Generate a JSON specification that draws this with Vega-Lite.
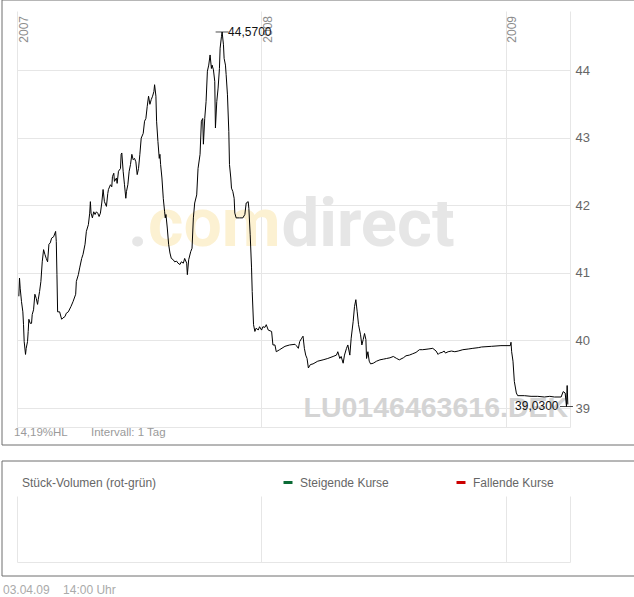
{
  "$schema": "https://vega.github.io/schema/vega-lite/v6.json",
  "background": "white",
  "padding": {"left": 0.5, "top": -1.5, "right": 0, "bottom": 4},
  "config": {
    "font": "Liberation Sans",
    "axis": {"translate": 0, "gridColor": "#e6e6e6", "domainColor": "#e6e6e6", "ticks": false, "labels": false, "grid": false, "domain": false},
    "view": {"stroke": null}
  },
  "title": {"text": "03.04.09\u00a0\u00a0\u00a0 14:00 Uhr", "orient": "bottom", "anchor": "start", "fontSize": 12, "fontWeight": "normal", "color": "#aaaaaa", "baseline": "alphabetic", "offset": 18, "dx": 2},
  "spacing": 14,
  "datasets": {
    "price": [
      {"date": "2007-01-03", "price": 40.66}, {"date": "2007-01-04", "price": 40.93}, {"date": "2007-01-05", "price": 40.78}, {"date": "2007-01-07", "price": 40.58},
      {"date": "2007-01-09", "price": 40.43}, {"date": "2007-01-10", "price": 40.24}, {"date": "2007-01-11", "price": 39.99}, {"date": "2007-01-13", "price": 39.80},
      {"date": "2007-01-14", "price": 39.89}, {"date": "2007-01-16", "price": 39.99}, {"date": "2007-01-17", "price": 40.14}, {"date": "2007-01-18", "price": 40.32},
      {"date": "2007-01-20", "price": 40.26}, {"date": "2007-01-22", "price": 40.26}, {"date": "2007-01-23", "price": 40.39}, {"date": "2007-01-25", "price": 40.46},
      {"date": "2007-01-27", "price": 40.69}, {"date": "2007-01-29", "price": 40.63}, {"date": "2007-01-31", "price": 40.54}, {"date": "2007-02-01", "price": 40.61},
      {"date": "2007-02-03", "price": 40.73}, {"date": "2007-02-05", "price": 40.88}, {"date": "2007-02-07", "price": 41.17}, {"date": "2007-02-09", "price": 41.35},
      {"date": "2007-02-11", "price": 41.28}, {"date": "2007-02-13", "price": 41.22}, {"date": "2007-02-15", "price": 41.17}, {"date": "2007-02-17", "price": 41.43},
      {"date": "2007-02-19", "price": 41.45}, {"date": "2007-02-21", "price": 41.52}, {"date": "2007-02-24", "price": 41.54}, {"date": "2007-02-27", "price": 41.62},
      {"date": "2007-02-28", "price": 41.47}, {"date": "2007-03-01", "price": 40.98}, {"date": "2007-03-02", "price": 40.43}, {"date": "2007-03-05", "price": 40.43},
      {"date": "2007-03-08", "price": 40.32}, {"date": "2007-03-10", "price": 40.34}, {"date": "2007-03-13", "price": 40.36}, {"date": "2007-03-15", "price": 40.41},
      {"date": "2007-03-18", "price": 40.43}, {"date": "2007-03-22", "price": 40.51}, {"date": "2007-03-25", "price": 40.58}, {"date": "2007-03-29", "price": 40.69},
      {"date": "2007-03-30", "price": 40.88}, {"date": "2007-04-02", "price": 40.98}, {"date": "2007-04-04", "price": 41.08}, {"date": "2007-04-07", "price": 41.22},
      {"date": "2007-04-09", "price": 41.28}, {"date": "2007-04-12", "price": 41.43}, {"date": "2007-04-14", "price": 41.62}, {"date": "2007-04-17", "price": 41.72},
      {"date": "2007-04-19", "price": 41.89}, {"date": "2007-04-20", "price": 42.06}, {"date": "2007-04-21", "price": 41.89}, {"date": "2007-04-23", "price": 41.82},
      {"date": "2007-04-25", "price": 41.91}, {"date": "2007-04-27", "price": 41.87}, {"date": "2007-04-29", "price": 41.91}, {"date": "2007-05-01", "price": 41.89},
      {"date": "2007-05-03", "price": 41.84}, {"date": "2007-05-05", "price": 41.89}, {"date": "2007-05-07", "price": 42.04}, {"date": "2007-05-09", "price": 42.24},
      {"date": "2007-05-11", "price": 42.06}, {"date": "2007-05-14", "price": 41.99}, {"date": "2007-05-16", "price": 42.18}, {"date": "2007-05-17", "price": 42.24},
      {"date": "2007-05-20", "price": 42.31}, {"date": "2007-05-22", "price": 42.28}, {"date": "2007-05-23", "price": 42.43}, {"date": "2007-05-25", "price": 42.48},
      {"date": "2007-05-26", "price": 42.36}, {"date": "2007-05-29", "price": 42.41}, {"date": "2007-05-30", "price": 42.33}, {"date": "2007-06-01", "price": 42.51},
      {"date": "2007-06-04", "price": 42.55}, {"date": "2007-06-05", "price": 42.76}, {"date": "2007-06-06", "price": 42.78}, {"date": "2007-06-08", "price": 42.51},
      {"date": "2007-06-10", "price": 42.31}, {"date": "2007-06-12", "price": 42.11}, {"date": "2007-06-13", "price": 42.21}, {"date": "2007-06-15", "price": 42.31},
      {"date": "2007-06-17", "price": 42.51}, {"date": "2007-06-19", "price": 42.61}, {"date": "2007-06-21", "price": 42.76}, {"date": "2007-06-23", "price": 42.68},
      {"date": "2007-06-25", "price": 42.70}, {"date": "2007-06-27", "price": 42.65}, {"date": "2007-06-29", "price": 42.46}, {"date": "2007-07-01", "price": 42.55},
      {"date": "2007-07-03", "price": 42.76}, {"date": "2007-07-05", "price": 43.00}, {"date": "2007-07-08", "price": 43.07}, {"date": "2007-07-10", "price": 43.25},
      {"date": "2007-07-12", "price": 43.29}, {"date": "2007-07-14", "price": 43.47}, {"date": "2007-07-16", "price": 43.62}, {"date": "2007-07-18", "price": 43.50},
      {"date": "2007-07-20", "price": 43.57}, {"date": "2007-07-22", "price": 43.62}, {"date": "2007-07-24", "price": 43.69}, {"date": "2007-07-25", "price": 43.79},
      {"date": "2007-07-27", "price": 43.62}, {"date": "2007-07-28", "price": 43.25}, {"date": "2007-07-30", "price": 42.95}, {"date": "2007-08-01", "price": 42.70},
      {"date": "2007-08-02", "price": 42.76}, {"date": "2007-08-03", "price": 42.61}, {"date": "2007-08-05", "price": 42.41}, {"date": "2007-08-07", "price": 42.11},
      {"date": "2007-08-09", "price": 41.91}, {"date": "2007-08-10", "price": 41.82}, {"date": "2007-08-11", "price": 41.87}, {"date": "2007-08-13", "price": 41.67},
      {"date": "2007-08-15", "price": 41.43}, {"date": "2007-08-17", "price": 41.30}, {"date": "2007-08-19", "price": 41.22}, {"date": "2007-08-22", "price": 41.20},
      {"date": "2007-08-24", "price": 41.17}, {"date": "2007-08-27", "price": 41.18}, {"date": "2007-08-29", "price": 41.15}, {"date": "2007-09-01", "price": 41.13},
      {"date": "2007-09-03", "price": 41.17}, {"date": "2007-09-06", "price": 41.15}, {"date": "2007-09-08", "price": 41.22}, {"date": "2007-09-11", "price": 41.15},
      {"date": "2007-09-12", "price": 40.98}, {"date": "2007-09-14", "price": 41.20}, {"date": "2007-09-17", "price": 41.32}, {"date": "2007-09-19", "price": 41.37},
      {"date": "2007-09-21", "price": 41.82}, {"date": "2007-09-23", "price": 42.04}, {"date": "2007-09-26", "price": 42.16}, {"date": "2007-09-28", "price": 42.55},
      {"date": "2007-10-01", "price": 42.76}, {"date": "2007-10-03", "price": 43.25}, {"date": "2007-10-05", "price": 43.29}, {"date": "2007-10-06", "price": 42.91},
      {"date": "2007-10-08", "price": 43.29}, {"date": "2007-10-10", "price": 43.54}, {"date": "2007-10-12", "price": 43.99}, {"date": "2007-10-14", "price": 44.08},
      {"date": "2007-10-16", "price": 44.23}, {"date": "2007-10-18", "price": 44.03}, {"date": "2007-10-19", "price": 44.08}, {"date": "2007-10-21", "price": 44.01},
      {"date": "2007-10-23", "price": 43.84}, {"date": "2007-10-24", "price": 43.15}, {"date": "2007-10-26", "price": 43.54}, {"date": "2007-10-28", "price": 43.74},
      {"date": "2007-10-30", "price": 44.03}, {"date": "2007-10-31", "price": 44.33}, {"date": "2007-11-02", "price": 44.50}, {"date": "2007-11-03", "price": 44.57},
      {"date": "2007-11-05", "price": 44.38}, {"date": "2007-11-06", "price": 44.18}, {"date": "2007-11-08", "price": 44.08}, {"date": "2007-11-09", "price": 43.94},
      {"date": "2007-11-11", "price": 43.64}, {"date": "2007-11-13", "price": 43.10}, {"date": "2007-11-14", "price": 42.61}, {"date": "2007-11-16", "price": 42.41},
      {"date": "2007-11-17", "price": 42.26}, {"date": "2007-11-19", "price": 42.21}, {"date": "2007-11-21", "price": 42.11}, {"date": "2007-11-22", "price": 41.89},
      {"date": "2007-11-24", "price": 41.82}, {"date": "2007-11-29", "price": 41.82}, {"date": "2007-12-04", "price": 41.82}, {"date": "2007-12-07", "price": 41.87},
      {"date": "2007-12-09", "price": 42.04}, {"date": "2007-12-12", "price": 42.06}, {"date": "2007-12-13", "price": 41.96}, {"date": "2007-12-15", "price": 41.57},
      {"date": "2007-12-17", "price": 41.08}, {"date": "2007-12-18", "price": 40.73}, {"date": "2007-12-20", "price": 40.24}, {"date": "2007-12-22", "price": 40.14},
      {"date": "2007-12-24", "price": 40.19}, {"date": "2007-12-27", "price": 40.16}, {"date": "2007-12-29", "price": 40.21}, {"date": "2008-01-01", "price": 40.16},
      {"date": "2008-01-03", "price": 40.21}, {"date": "2008-01-06", "price": 40.20}, {"date": "2008-01-08", "price": 40.24}, {"date": "2008-01-11", "price": 40.16},
      {"date": "2008-01-16", "price": 40.14}, {"date": "2008-01-18", "price": 39.94}, {"date": "2008-01-21", "price": 39.94}, {"date": "2008-01-23", "price": 39.84},
      {"date": "2008-01-28", "price": 39.87}, {"date": "2008-02-05", "price": 39.92}, {"date": "2008-02-12", "price": 39.94}, {"date": "2008-02-20", "price": 39.95},
      {"date": "2008-02-22", "price": 39.93}, {"date": "2008-02-25", "price": 39.89}, {"date": "2008-02-27", "price": 39.99}, {"date": "2008-03-01", "price": 40.04},
      {"date": "2008-03-03", "price": 40.07}, {"date": "2008-03-05", "price": 39.89}, {"date": "2008-03-07", "price": 39.79}, {"date": "2008-03-09", "price": 39.74},
      {"date": "2008-03-11", "price": 39.60}, {"date": "2008-03-14", "price": 39.65}, {"date": "2008-03-18", "price": 39.66}, {"date": "2008-03-25", "price": 39.70},
      {"date": "2008-04-02", "price": 39.72}, {"date": "2008-04-09", "price": 39.74}, {"date": "2008-04-17", "price": 39.77}, {"date": "2008-04-22", "price": 39.79},
      {"date": "2008-04-24", "price": 39.84}, {"date": "2008-04-27", "price": 39.74}, {"date": "2008-04-29", "price": 39.77}, {"date": "2008-05-02", "price": 39.67},
      {"date": "2008-05-04", "price": 39.79}, {"date": "2008-05-07", "price": 39.89}, {"date": "2008-05-09", "price": 39.94}, {"date": "2008-05-12", "price": 39.79},
      {"date": "2008-05-14", "price": 40.04}, {"date": "2008-05-17", "price": 40.29}, {"date": "2008-05-19", "price": 40.51}, {"date": "2008-05-21", "price": 40.61},
      {"date": "2008-05-23", "price": 40.43}, {"date": "2008-05-25", "price": 40.24}, {"date": "2008-05-28", "price": 40.09}, {"date": "2008-05-30", "price": 39.94},
      {"date": "2008-06-01", "price": 40.02}, {"date": "2008-06-03", "price": 40.11}, {"date": "2008-06-05", "price": 40.02}, {"date": "2008-06-06", "price": 39.74},
      {"date": "2008-06-08", "price": 39.84}, {"date": "2008-06-10", "price": 39.70}, {"date": "2008-06-12", "price": 39.66}, {"date": "2008-06-16", "price": 39.67},
      {"date": "2008-06-21", "price": 39.70}, {"date": "2008-06-26", "price": 39.72}, {"date": "2008-07-01", "price": 39.73}, {"date": "2008-07-06", "price": 39.74},
      {"date": "2008-07-11", "price": 39.75}, {"date": "2008-07-16", "price": 39.77}, {"date": "2008-07-21", "price": 39.74}, {"date": "2008-07-25", "price": 39.72},
      {"date": "2008-07-31", "price": 39.75}, {"date": "2008-08-04", "price": 39.78}, {"date": "2008-08-09", "price": 39.79}, {"date": "2008-08-14", "price": 39.81},
      {"date": "2008-08-19", "price": 39.83}, {"date": "2008-08-24", "price": 39.87}, {"date": "2008-08-29", "price": 39.87}, {"date": "2008-09-06", "price": 39.88},
      {"date": "2008-09-13", "price": 39.89}, {"date": "2008-09-18", "price": 39.85}, {"date": "2008-09-21", "price": 39.80}, {"date": "2008-09-23", "price": 39.82},
      {"date": "2008-09-27", "price": 39.83}, {"date": "2008-09-30", "price": 39.85}, {"date": "2008-10-02", "price": 39.82}, {"date": "2008-10-06", "price": 39.84},
      {"date": "2008-10-11", "price": 39.85}, {"date": "2008-10-16", "price": 39.84}, {"date": "2008-10-21", "price": 39.85}, {"date": "2008-10-28", "price": 39.87},
      {"date": "2008-11-05", "price": 39.88}, {"date": "2008-11-12", "price": 39.89}, {"date": "2008-11-20", "price": 39.90}, {"date": "2008-11-25", "price": 39.91},
      {"date": "2008-12-10", "price": 39.92}, {"date": "2008-12-24", "price": 39.93}, {"date": "2009-01-07", "price": 39.93}, {"date": "2009-01-08", "price": 39.98},
      {"date": "2009-01-09", "price": 39.84}, {"date": "2009-01-11", "price": 39.70}, {"date": "2009-01-13", "price": 39.40}, {"date": "2009-01-16", "price": 39.23},
      {"date": "2009-01-18", "price": 39.19}, {"date": "2009-01-28", "price": 39.19}, {"date": "2009-02-07", "price": 39.18}, {"date": "2009-02-17", "price": 39.18},
      {"date": "2009-02-27", "price": 39.17}, {"date": "2009-03-07", "price": 39.18}, {"date": "2009-03-14", "price": 39.17}, {"date": "2009-03-24", "price": 39.17},
      {"date": "2009-03-27", "price": 39.25}, {"date": "2009-03-30", "price": 39.23}, {"date": "2009-04-01", "price": 39.03}, {"date": "2009-04-02", "price": 39.34},
      {"date": "2009-04-03", "price": 39.06}
    ],
    "extremes": [
      {"date": "2007-11-03", "price": 44.57, "kind": "max", "label": "44,5700"},
      {"date": "2009-04-01", "price": 39.03, "kind": "min", "label": "39,0300"}
    ],
    "volume": []
  },
  "vconcat": [
    {
      "width": 633,
      "height": 445,
      "view": {"stroke": "#6e6e6e", "strokeWidth": 1},
      "resolve": {"axis": {"x": "independent", "y": "independent"}},
      "layer": [
        {
          "data": {"name": "price"},
          "mark": {"type": "line", "color": "#000000", "strokeWidth": 1},
          "encoding": {
            "x": {
              "field": "date", "type": "temporal",
              "scale": {"type": "utc", "domain": [{"year": 2007, "month": 1, "date": 1, "utc": true}, {"year": 2009, "month": 4, "date": 7, "utc": true}], "range": [16, 569]},
              "axis": {
                "orient": "top", "grid": true, "labels": true,
                "values": [{"year": 2007, "month": 1, "date": 1, "utc": true}, {"year": 2008, "month": 1, "date": 1, "utc": true}, {"year": 2009, "month": 1, "date": 1, "utc": true}],
                "format": "%Y", "labelAngle": 270, "labelAlign": "right", "labelBaseline": "top", "labelPadding": -16.5, "labelOffset": 1,
                "labelColor": "#8c8c8c", "labelFontSize": 12, "labelFlush": false, "labelOverlap": false,
                "title": ".", "titleX": 126.5, "titleY": 246.5, "titleAlign": "left", "titleBaseline": "alphabetic",
                "titleFont": "Roboto", "titleFontSize": 68, "titleFontWeight": "bold", "titleColor": "#e6e6e6"
              }
            },
            "y": {
              "field": "price", "type": "quantitative",
              "scale": {"domain": [38.719, 44.873], "range": [428, 12], "zero": false, "nice": false},
              "axis": {
                "orient": "right", "offset": -64, "values": [39, 40, 41, 42, 43, 44], "labels": true, "domain": true,
                "labelPadding": 5, "labelColor": "#666666", "labelFontSize": 13,
                "title": "LU0146463616.DEK", "titleAngle": 0, "titleX": -267, "titleY": 417.5, "titleAlign": "left", "titleBaseline": "alphabetic",
                "titleFont": "Liberation Sans", "titleFontSize": 28.5, "titleFontWeight": "bold", "titleColor": "#d4d4d4"
              }
            }
          }
        },
        {
          "data": {"name": "extremes"},
          "mark": {"type": "tick", "orient": "horizontal", "color": "#000000", "size": 13, "thickness": 1},
          "encoding": {
            "x": {
              "field": "date", "type": "temporal",
              "axis": {
                "orient": "bottom", "offset": -17, "domain": true,
                "title": "14,19%HL", "titleX": 12.5, "titleY": 8.5, "titleAlign": "left", "titleBaseline": "alphabetic",
                "titleFontSize": 11.5, "titleFontWeight": "normal", "titleColor": "#9a9a9a"
              }
            },
            "y": {
              "field": "price", "type": "quantitative",
              "axis": {
                "orient": "left", "grid": true, "values": [39, 40, 41, 42, 43, 44],
                "title": "Intervall: 1 Tag", "titleAngle": 0, "titleX": 89.5, "titleY": 436.5, "titleAlign": "left", "titleBaseline": "alphabetic",
                "titleFontSize": 11.5, "titleFontWeight": "normal", "titleColor": "#9a9a9a"
              }
            }
          }
        },
        {
          "data": {"name": "extremes"},
          "transform": [{"filter": "datum.kind == 'max'"}],
          "mark": {"type": "text", "align": "left", "baseline": "middle", "dx": 6, "fontSize": 12, "color": "#111111"},
          "encoding": {
            "x": {
              "field": "date", "type": "temporal",
              "axis": {
                "orient": "bottom",
                "title": "com", "titleX": 146.5, "titleY": -198.5, "titleAlign": "left", "titleBaseline": "alphabetic",
                "titleFont": "Roboto", "titleFontSize": 68, "titleFontWeight": "bold", "titleColor": "#fcf1d2"
              }
            },
            "y": {
              "field": "price", "type": "quantitative",
              "axis": {
                "orient": "left",
                "title": "direct", "titleAngle": 0, "titleX": 280, "titleY": 246.5, "titleAlign": "left", "titleBaseline": "alphabetic",
                "titleFont": "Roboto", "titleFontSize": 67, "titleFontWeight": "bold", "titleColor": "#e6e6e6"
              }
            },
            "text": {"field": "label"}
          }
        },
        {
          "data": {"name": "extremes"},
          "transform": [{"filter": "datum.kind == 'min'"}],
          "mark": {"type": "text", "align": "right", "baseline": "middle", "dx": -8, "fontSize": 12, "color": "#111111"},
          "encoding": {
            "x": {"field": "date", "type": "temporal", "axis": null},
            "y": {"field": "price", "type": "quantitative", "axis": null},
            "text": {"field": "label"}
          }
        }
      ]
    },
    {
      "width": 633,
      "height": 115,
      "view": {"stroke": "#6e6e6e", "strokeWidth": 1},
      "data": {"name": "volume"},
      "resolve": {"axis": {"x": "independent", "y": "independent"}},
      "layer": [
        {
          "mark": "bar",
          "encoding": {
            "x": {
              "field": "date", "type": "temporal",
              "scale": {"type": "utc", "domain": [{"year": 2007, "month": 1, "date": 1, "utc": true}, {"year": 2009, "month": 4, "date": 7, "utc": true}], "range": [16, 569], "padding": 0},
              "axis": {
                "orient": "top", "grid": true, "title": null,
                "values": [{"year": 2007, "month": 1, "date": 1, "utc": true}, {"year": 2008, "month": 1, "date": 1, "utc": true}, {"year": 2009, "month": 1, "date": 1, "utc": true}]
              }
            },
            "y": {
              "field": "volume", "type": "quantitative",
              "scale": {"domain": [0, 1], "range": [102, 36], "nice": false, "zero": true, "padding": 0},
              "axis": {"orient": "right", "offset": -64, "domain": true, "title": null}
            },
            "color": {
              "field": "direction", "type": "nominal",
              "scale": {"domain": ["Steigende Kurse", "Fallende Kurse"], "range": ["#0b6b36", "#cc0000"]},
              "legend": {
                "orient": "none", "legendX": 20.5, "legendY": 477, "direction": "horizontal",
                "title": "Stück-Volumen (rot-grün)", "titleOrient": "left", "titlePadding": 125, "titleBaseline": "middle",
                "titleFontSize": 12, "titleFontWeight": "normal", "titleColor": "#666666",
                "labelFontSize": 12, "labelColor": "#666666", "labelOffset": 6,
                "symbolType": "M-1,-0.33H1V0.33H-1Z", "symbolSize": 81, "symbolStrokeWidth": 0, "symbolOpacity": 1,
                "columnPadding": 66
              }
            }
          }
        },
        {
          "mark": "tick",
          "encoding": {
            "x": {"field": "date", "type": "temporal", "axis": {"orient": "bottom", "offset": -13, "domain": true, "title": null}},
            "y": {"field": "volume", "type": "quantitative", "axis": null}
          }
        }
      ]
    }
  ]
}
